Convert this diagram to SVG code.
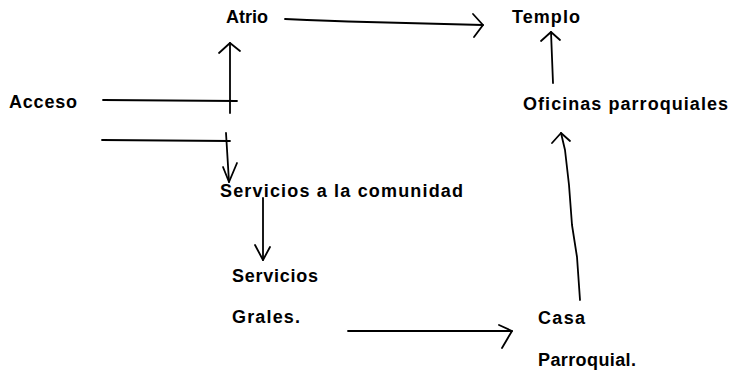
<svg xmlns="http://www.w3.org/2000/svg" width="734" height="371" viewBox="0 0 734 371">
<style>
.t{font-family:"Liberation Sans",Arial,sans-serif;font-size:18px;font-weight:bold;fill:#000}
.c{fill:none;stroke:#000;stroke-width:1.8;stroke-linecap:round;stroke-linejoin:round}
</style>
<rect width="734" height="371" fill="#fff"/>
<g id="atrio"><text class="t" x="226" y="23" textLength="42" lengthAdjust="spacing">Atrio</text></g>
<g id="templo"><text class="t" x="512" y="23" textLength="68" lengthAdjust="spacing">Templo</text></g>
<g id="acceso"><text class="t" x="9" y="108" textLength="68" lengthAdjust="spacing">Acceso</text></g>
<g id="oficinas"><text class="t" x="523" y="110" textLength="205" lengthAdjust="spacing">Oficinas parroquiales</text></g>
<g id="servicios-comunidad"><text class="t" x="220" y="197" textLength="243" lengthAdjust="spacing">Servicios a la comunidad</text></g>
<g id="servicios-grales"><text class="t" x="232" y="282" textLength="86" lengthAdjust="spacing">Servicios</text><text class="t" x="232" y="323" textLength="68" lengthAdjust="spacing">Grales.</text></g>
<g id="casa-parroquial"><text class="t" x="538" y="324" textLength="47" lengthAdjust="spacing">Casa</text><text class="t" x="538" y="366" textLength="98" lengthAdjust="spacing">Parroquial.</text></g>
<g id="connectors">
<path class="c" d="M285 19 Q330 21 367 22 L483 25"/>
<path class="c" d="M473 14 L483 25 L474 37"/>
<path class="c" d="M103 100 L237 101"/>
<path class="c" d="M230 113 L230 43"/>
<path class="c" d="M219 53 L230 43 L240 51"/>
<path class="c" d="M102 140 L230 141"/>
<path class="c" d="M226 133 L229 182"/>
<path class="c" d="M223 167 L229 182 L237 163"/>
<path class="c" d="M263 198 L263 260"/>
<path class="c" d="M255 245 L263 260 L270 247"/>
<path class="c" d="M348 331 L512 331"/>
<path class="c" d="M499 325 L512 331 L502 348"/>
<path class="c" d="M580 300 L577 257 L572 225 L569 185 L565 150 L561 133"/>
<path class="c" d="M552 143 L561 133 L570 141"/>
<path class="c" d="M553 83 L551 32"/>
<path class="c" d="M541 41 L551 32 L560 40"/>
</g>
</svg>
